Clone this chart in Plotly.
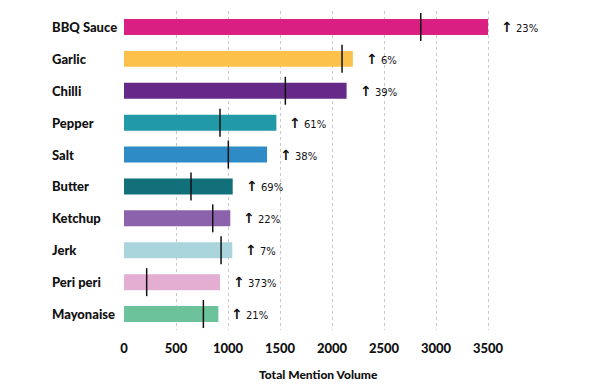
import plotly.graph_objects as go

categories = ["BBQ Sauce", "Garlic", "Chilli", "Pepper", "Salt", "Butter",
              "Ketchup", "Jerk", "Peri peri", "Mayonaise"]
current_volume = [3500, 2200, 2140, 1465, 1375, 1045, 1022, 1041, 923, 907]
previous_volume = [2853, 2096, 1551, 923, 1003, 644, 853, 933, 218, 763]
growth_labels = ["23%", "6%", "39%", "61%", "38%", "69%", "22%", "7%", "373%", "21%"]
colors = ["#d91f82", "#fbc14a", "#652a88", "#2299a7", "#2f8bc5", "#12707a",
          "#8d62ac", "#aad5dc", "#e4aed2", "#6cc29b"]
tick_values = [0, 500, 1000, 1500, 2000, 2500, 3000, 3500]

fig = go.Figure()
fig.add_trace(go.Bar(
    y=categories, x=current_volume, orientation="h",
    marker=dict(color=colors, line=dict(width=0)), width=0.5,
    hoverinfo="x+y", showlegend=False,
))
fig.add_trace(go.Scatter(
    y=categories, x=previous_volume, mode="markers",
    marker=dict(symbol="line-ns", size=20, line=dict(width=1.5, color="#111111")),
    showlegend=False, hoverinfo="x",
))

annotations = []
for cat, val, lab in zip(categories, current_volume, growth_labels):
    annotations.append(dict(
        x=val, y=cat, xref="x", yref="y", xanchor="left", yanchor="middle",
        xshift=11, showarrow=False,
        text='<span style="font-size:14px"><b>↑</b></span> ' + lab,
        font=dict(family="DejaVu Sans", size=10, color="#111111"),
    ))
    annotations.append(dict(
        x=-0.191, y=cat, xref="paper", yref="y", xanchor="left", yanchor="middle",
        showarrow=False, text=cat,
        font=dict(family="Lato", size=13, color="#111111", weight=900),
    ))
annotations.append(dict(
    x=0.5, y=-0.138, xref="paper", yref="paper", xanchor="center", yanchor="middle",
    showarrow=False, text="Total Mention Volume",
    font=dict(family="Lato", size=12, color="#111111", weight=900),
))

fig.update_layout(
    width=608, height=378,
    margin=dict(l=116, r=104, t=3, b=56, autoexpand=False),
    paper_bgcolor="white", plot_bgcolor="white",
    annotations=annotations,
    xaxis=dict(
        range=[0, 3730], tickvals=tick_values, automargin=False,
        showgrid=True, gridcolor="#c8c8c8", griddash="dot", gridwidth=1,
        zeroline=False, showline=False, ticks="",
        tickfont=dict(family="Lato", size=13, color="#111111", weight=900),
        ticklabelstandoff=9,
    ),
    yaxis=dict(
        categoryorder="array", categoryarray=categories, range=[9.5, -0.5],
        automargin=False,
        showticklabels=False, showgrid=False, zeroline=False, showline=False, ticks="",
    ),
)

fig.write_html("out.html")
